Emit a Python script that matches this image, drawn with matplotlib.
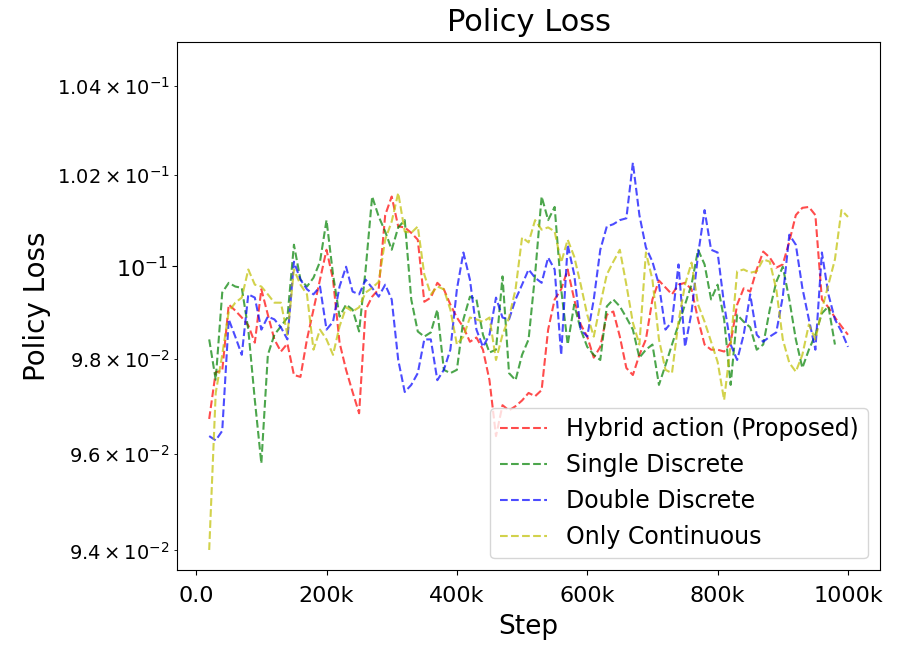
import numpy as np
import matplotlib.pyplot as plt
from matplotlib.ticker import FuncFormatter

plt.rcParams['font.size'] = 14

# steps (20k .. 1000k every 10k)
steps = np.arange(20, 1001, 10) * 1000
steps_single = np.arange(20, 981, 10) * 1000

# policy loss values, in units of 1e-2
hybrid = [9.673, 9.772, 9.775, 9.917, 9.904, 9.889, 9.872, 9.835, 9.950, 9.895,
          9.842, 9.816, 9.833, 9.766, 9.762, 9.842, 9.906, 9.971, 10.036, 9.971,
          9.835, 9.777, 9.730, 9.685, 9.906, 9.934, 9.950, 10.112, 10.153, 10.087,
          10.085, 10.073, 10.058, 9.923, 9.932, 9.964, 9.950, 9.917, 9.889, 9.868,
          9.837, 9.846, 9.820, 9.755, 9.637, 9.702, 9.691, 9.700, 9.712, 9.728,
          9.721, 9.734, 9.863, 9.928, 9.950, 9.993, 9.928, 9.874, 9.848, 9.803,
          9.826, 9.895, 9.902, 9.848, 9.781, 9.766, 9.809, 9.842, 9.928, 9.969,
          9.954, 9.939, 9.960, 9.964, 9.950, 9.885, 9.831, 9.820, 9.820, 9.816,
          9.835, 9.917, 9.952, 9.945, 9.993, 10.032, 10.019, 9.997, 10.004, 10.054,
          10.112, 10.128, 10.130, 10.112, 9.928, 9.911, 9.889, 9.870, 9.852]

single = [9.842, 9.756, 9.943, 9.964, 9.956, 9.953, 9.863, 9.713, 9.580, 9.809,
          9.852, 9.870, 9.889, 10.047, 9.971, 9.956, 9.975, 10.010, 10.101, 9.982,
          9.891, 9.917, 9.906, 9.859, 9.993, 10.153, 10.109, 10.076, 10.036, 10.085,
          10.101, 9.928, 9.859, 9.848, 9.857, 9.906, 9.777, 9.770, 9.777, 9.885,
          9.934, 9.928, 9.852, 9.814, 9.820, 9.978, 9.770, 9.755, 9.809, 9.842,
          9.982, 10.153, 10.101, 10.130, 9.950, 9.831, 9.917, 9.863, 9.826, 9.809,
          9.798, 9.913, 9.928, 9.913, 9.889, 9.863, 9.803, 9.820, 9.831, 9.745,
          9.787, 9.831, 9.874, 9.917, 9.960, 10.036, 10.004, 9.928, 9.960, 9.885,
          9.745, 9.895, 9.880, 9.868, 9.820, 9.831, 9.906, 9.966, 9.999, 9.928,
          9.842, 9.781, 9.820, 9.852, 9.898, 9.913, 9.831]

double = [9.637, 9.628, 9.648, 9.885, 9.848, 9.809, 9.939, 9.932, 9.863, 9.891,
          9.885, 9.868, 9.842, 10.010, 9.971, 9.950, 9.939, 9.956, 9.863, 9.880,
          9.956, 9.999, 9.945, 9.939, 9.971, 9.953, 9.934, 9.960, 9.928, 9.798,
          9.730, 9.745, 9.770, 9.842, 9.842, 9.755, 9.777, 9.820, 9.950, 10.030,
          9.971, 9.863, 9.826, 9.852, 9.932, 9.889, 9.885, 9.928, 9.960, 9.993,
          9.975, 9.964, 10.019, 9.993, 9.809, 10.047, 9.982, 9.863, 9.848, 9.928,
          10.036, 10.087, 10.092, 10.101, 10.105, 10.228, 10.112, 10.041, 10.010, 9.960,
          9.863, 9.880, 10.004, 9.826, 9.900, 10.025, 10.123, 10.036, 10.030, 9.917,
          9.831, 9.798, 9.852, 9.939, 9.852, 9.837, 9.848, 9.857, 9.934, 10.069,
          10.047, 9.953, 9.885, 9.820, 10.030, 9.939, 9.885, 9.859, 9.826]

continuous = [9.401, 9.728, 9.809, 9.902, 9.921, 9.932, 9.993, 9.960, 9.956, 9.939,
              9.921, 9.921, 9.852, 9.993, 9.960, 9.939, 9.820, 9.863, 9.842, 9.809,
              9.870, 9.911, 9.902, 9.911, 9.943, 9.953, 9.966, 10.058, 10.098, 10.161,
              10.076, 10.073, 10.087, 9.982, 9.939, 9.956, 9.950, 9.906, 9.831, 9.848,
              9.889, 9.885, 9.880, 9.889, 9.798, 9.852, 9.889, 9.950, 10.063, 10.052,
              10.101, 10.080, 10.085, 10.076, 10.008, 10.058, 10.021, 9.960, 9.895, 9.848,
              9.917, 9.982, 10.010, 10.036, 9.960, 9.878, 9.831, 10.030, 9.971, 9.842,
              9.777, 9.770, 9.880, 9.960, 10.008, 9.917, 9.880, 9.837, 9.794, 9.713,
              9.831, 9.989, 9.993, 9.986, 9.989, 10.015, 10.010, 9.950, 9.842, 9.792,
              9.773, 9.809, 9.874, 9.842, 9.906, 9.960, 10.015, 10.123, 10.108]


def kfmt(x, pos):
    if x == 0:
        return '0.0'
    return '%dk' % (x / 1000)


fig = plt.figure(figsize=(9.09, 6.59), dpi=100)
ax = fig.add_subplot(111)
plt.subplots_adjust(left=0.195, right=0.968, top=0.936, bottom=0.135)

ax.plot(steps, np.array(hybrid) / 100, 'r--', alpha=0.7, label='Hybrid action (Proposed)')
ax.plot(steps_single, np.array(single) / 100, 'g--', alpha=0.7, label='Single Discrete')
ax.plot(steps, np.array(double) / 100, 'b--', alpha=0.7, label='Double Discrete')
ax.plot(steps, np.array(continuous) / 100, 'y--', alpha=0.7, label='Only Continuous')

ax.set_yscale('log')
ax.set_ylim(0.0936, 0.105)
ax.xaxis.set_major_formatter(FuncFormatter(kfmt))
ax.tick_params(axis='both', which='major', labelsize=16)
ax.tick_params(axis='x', which='major', pad=8)

ax.set_title('Policy Loss', fontsize=22, pad=8)
ax.set_xlabel('Step', fontsize=19, labelpad=6)
ax.set_ylabel('Policy Loss', fontsize=20)
ax.legend(loc='lower right', fontsize=17)

plt.savefig('out.png', dpi=100)
